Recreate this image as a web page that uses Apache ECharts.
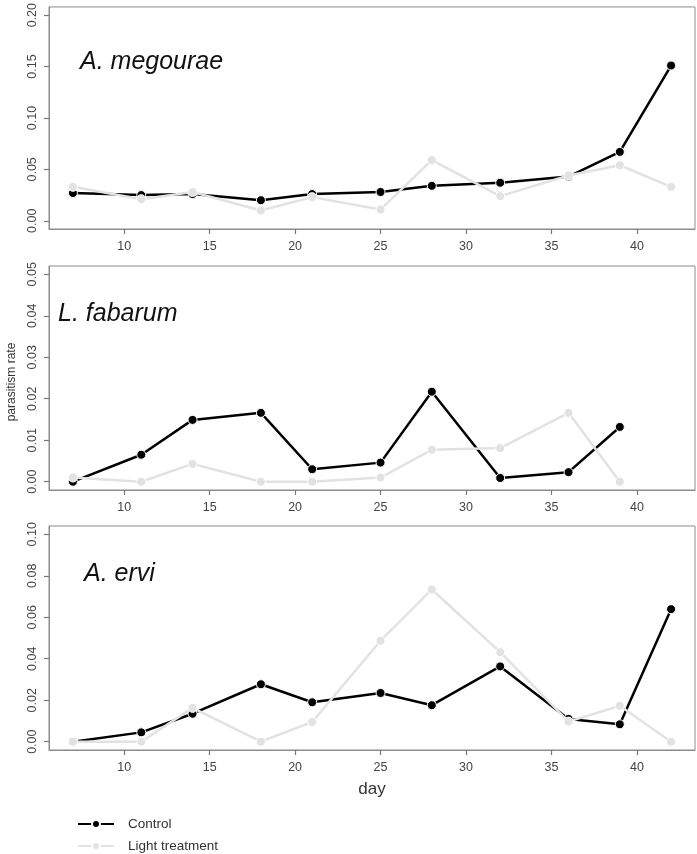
<!DOCTYPE html>
<html>
<head>
<meta charset="utf-8">
<script src="https://cdn.jsdelivr.net/npm/echarts@6/dist/echarts.min.js"></script>
<style>
html,body{margin:0;padding:0;background:#fff;}
#chart{width:697px;height:854px;}
</style>
</head>
<body>
<div id="chart"></div>
<script>
// ---- data ----
const days = [7, 11, 14, 18, 21, 25, 28, 32, 36, 39, 42];
const fabarumDays = [7, 11, 14, 18, 21, 25, 28, 32, 36, 39];

const megouraeControl = [0.027, 0.025, 0.026, 0.020, 0.026, 0.028, 0.034, 0.037, 0.043, 0.067, 0.151];
const megouraeLight   = [0.033, 0.021, 0.028, 0.010, 0.023, 0.011, 0.059, 0.024, 0.044, 0.054, 0.033];

const fabarumControl = [0.0000, 0.0065, 0.0149, 0.0166, 0.0030, 0.0046, 0.0217, 0.0009, 0.0023, 0.0132];
const fabarumLight   = [0.0010, 0.0000, 0.0043, 0.0000, 0.0000, 0.0010, 0.0077, 0.0081, 0.0166, 0.0000];

const erviControl = [0.000, 0.0045, 0.0135, 0.0277, 0.019, 0.0235, 0.0176, 0.0363, 0.011, 0.0084, 0.0639];
const erviLight   = [0.000, 0.000, 0.0163, 0.000, 0.0095, 0.0487, 0.0734, 0.0432, 0.0097, 0.0173, 0.000];

const speciesNames = ['A. megourae', 'L. fabarum', 'A. ervi'];
const seriesNames = ['Control', 'Light treatment'];
const xTicks = [10, 15, 20, 25, 30, 35, 40];
const yTicks1 = [0, 0.05, 0.10, 0.15, 0.20];
const yTicks2 = [0, 0.01, 0.02, 0.03, 0.04, 0.05];
const yTicks3 = [0, 0.02, 0.04, 0.06, 0.08, 0.10];

// ---- layout / style ----
const gridTops = [5, 266, 526];
const gridH = 224;
const boxColor = '#8c8c8c';
const tickColor = '#777';
const labelColor = '#444';
const font = '"Liberation Sans", Arial, Helvetica, sans-serif';

function pairs(xs, ys) { return xs.map((x, i) => [x, ys[i]]); }

const panels = [
  { ticks: yTicks1, min: -0.008, max: 0.208, c: pairs(days, megouraeControl), l: pairs(days, megouraeLight) },
  { ticks: yTicks2, min: -0.002, max: 0.052, c: pairs(fabarumDays, fabarumControl), l: pairs(fabarumDays, fabarumLight) },
  { ticks: yTicks3, min: -0.004, max: 0.104, c: pairs(days, erviControl), l: pairs(days, erviLight) }
];

const grids = [], xAxes = [], yAxes = [], series = [];
panels.forEach((p, i) => {
  grids.push({ left: 49, right: 2, top: gridTops[i], height: gridH, show: true,
    borderColor: boxColor, borderWidth: 1, backgroundColor: 'transparent', containLabel: false });
  xAxes.push({ type: 'value', gridIndex: i, min: 5.6, max: 43.4, position: 'bottom',
    axisLine: { show: true, onZero: false, lineStyle: { color: boxColor, width: 1 } }, splitLine: { show: false },
    axisTick: { show: true, customValues: xTicks, length: 5, lineStyle: { color: tickColor, width: 1.2 } },
    axisLabel: { customValues: xTicks, margin: 11, color: labelColor, fontSize: 12.5, fontFamily: font } });
  yAxes.push({ type: 'value', gridIndex: i, min: p.min, max: p.max, position: 'left',
    axisLine: { show: true, onZero: false, lineStyle: { color: boxColor, width: 1 } }, splitLine: { show: false },
    axisTick: { show: true, customValues: p.ticks, length: 5, lineStyle: { color: tickColor, width: 1.2 } },
    axisLabel: { customValues: p.ticks, rotate: 90, margin: 10, color: labelColor, fontSize: 12.5, fontFamily: font,
      formatter: v => v.toFixed(2) } });
  series.push({ name: seriesNames[0], type: 'line', xAxisIndex: i, yAxisIndex: i, data: p.c,
    symbol: 'circle', symbolSize: 9, z: 2, animation: false,
    lineStyle: { color: '#000', width: 2.5 },
    itemStyle: { color: '#000', borderColor: '#fff', borderWidth: 1 } });
  series.push({ name: seriesNames[1], type: 'line', xAxisIndex: i, yAxisIndex: i, data: p.l,
    symbol: 'circle', symbolSize: 9, z: 3, animation: false,
    lineStyle: { color: '#e2e2e2', width: 2.5 },
    itemStyle: { color: '#e2e2e2', borderColor: '#fff', borderWidth: 1 } });
});

const titlePos = [[80, 64], [58, 316], [84, 576]];
const graphics = speciesNames.map((n, i) => ({
  type: 'text', left: titlePos[i][0], top: titlePos[i][1] - 14,
  style: { text: n, fill: '#111', font: 'italic 25px ' + font }
}));
graphics.push({ type: 'text', x: 12, y: 382, rotation: Math.PI / 2,
  style: { text: 'parasitism rate', fill: '#333', font: '12px ' + font, align: 'center', verticalAlign: 'middle' } });
graphics.push({ type: 'text', x: 372, y: 789,
  style: { text: 'day', fill: '#333', font: '17px ' + font, align: 'center', verticalAlign: 'middle' } });

const chart = echarts.init(document.getElementById('chart'), null, { renderer: 'canvas' });
chart.setOption({
  animation: false,
  backgroundColor: '#fff',
  grid: grids, xAxis: xAxes, yAxis: yAxes, series: series,
  graphic: graphics,
  legend: { data: seriesNames, orient: 'vertical', left: 77, top: 817, padding: 0,
    itemWidth: 36, itemHeight: 10, itemGap: 8,
    textStyle: { color: '#333', fontSize: 13.5, fontFamily: font, padding: [0, 0, 0, 9] } }
});
</script>
</body>
</html>
